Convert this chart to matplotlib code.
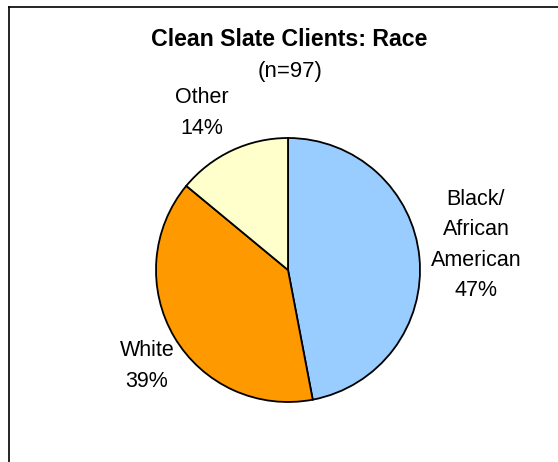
import matplotlib
matplotlib.use("Agg")
import matplotlib.pyplot as plt
from matplotlib.lines import Line2D

plt.rcParams["font.family"] = ["Liberation Sans", "DejaVu Sans"]

# Race breakdown of clients (percent of n=97)
categories = ["Black/\nAfrican\nAmerican", "White", "Other"]
percents = [47, 39, 14]
colors = ["#99CCFF", "#FF9900", "#FFFFCC"]
title = "Clean Slate Clients: Race"
subtitle = "(n=97)"

W, H = 558, 462
fig = plt.figure(figsize=(W / 100, H / 100), dpi=100)
fig.patch.set_facecolor("white")

# pie axes: centre (288, 270) px from top-left, radius 132 px
cx, cy, r = 288, 270, 132
ax = fig.add_axes([(cx - r) / W, (H - cy - r) / H, 2 * r / W, 2 * r / H])
ax.pie(percents, colors=colors, startangle=90, counterclock=False,
       wedgeprops=dict(edgecolor="black", linewidth=1.3))
ax.set_xlim(-1, 1)
ax.set_ylim(-1, 1)
ax.set_aspect("equal")
ax.axis("off")

# slice labels
label_pos = [(476, 245), (147, 366), (202, 113)]
for cat, pct, (px, py) in zip(categories, percents, label_pos):
    fig.text(px / W, 1 - py / H, f"{cat}\n{pct}%", ha="center", va="center",
             fontsize=15.5, linespacing=1.58, color="black")

fig.text(289 / W, 1 - 40 / H, title, ha="center", va="center",
         fontsize=16.7, fontweight="bold")
fig.text(290 / W, 1 - 72 / H, subtitle, ha="center", va="center", fontsize=16)

# chart-area frame (top and left edges)
fig.add_artist(Line2D([9 / W, 9 / W], [0, 1 - 7 / H], transform=fig.transFigure,
                      color="black", linewidth=1.2))
fig.add_artist(Line2D([9 / W, 1], [1 - 7 / H, 1 - 7 / H], transform=fig.transFigure,
                      color="black", linewidth=1.2))

fig.savefig("out.png", dpi=100)
